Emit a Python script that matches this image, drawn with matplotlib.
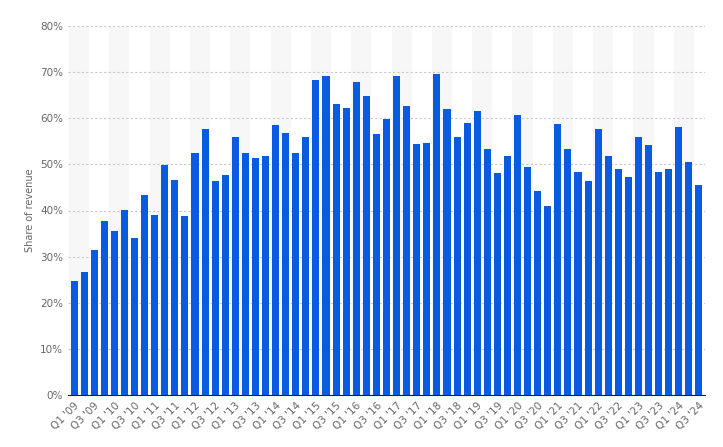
import matplotlib
matplotlib.use("Agg")
import matplotlib.pyplot as plt
from matplotlib.ticker import MultipleLocator, FuncFormatter

quarters = [f"Q{q} '{y:02d}" for y in range(9, 25) for q in (1, 2, 3, 4)][:63]
values = [24.7, 26.6, 31.4, 37.7, 35.5, 40.2, 34.0, 43.3, 39.1, 49.8,
          46.6, 38.8, 52.5, 57.7, 46.3, 47.6, 56.0, 52.5, 51.3, 51.9,
          58.6, 56.9, 52.5, 56.0, 68.4, 69.2, 63.1, 62.3, 67.9, 64.9,
          56.6, 59.8, 69.2, 62.7, 54.5, 54.7, 69.6, 62.1, 56.0, 58.9,
          61.5, 53.4, 48.2, 51.9, 60.7, 49.5, 44.2, 40.9, 58.8, 53.4,
          48.4, 46.5, 57.7, 51.9, 48.9, 47.2, 56.0, 54.1, 48.4, 48.9,
          58.2, 50.6, 45.6]
yticks = list(range(0, 81, 10))

fig = plt.figure(figsize=(7.23, 4.47), dpi=100)
ax = fig.add_axes([68/723, 1-395/447, 637/723, 369/447])
n = len(values)
x = list(range(n))
for i in range(0, n, 4):
    ax.axvspan(i - 0.5, i + 1.5, color="#f7f7f7", zorder=0, lw=0)
ax.bar(x, values, width=0.7, color="#0b5be0", zorder=3)
ax.set_xlim(-0.6, n - 0.4)
ax.set_ylim(0, 80)
ax.set_yticks(yticks)
ax.yaxis.set_major_formatter(FuncFormatter(lambda v, p: f"{int(v)}%"))
ax.grid(axis="y", color="#c8c8c8", linestyle=(0, (2, 2)), lw=0.8, zorder=1)
ax.set_xticks(x[::2])
ax.set_xticklabels(quarters[::2], rotation=45, ha="right", rotation_mode="anchor")
ax.tick_params(axis="both", length=0, labelsize=7.5, colors="#666666")
ax.tick_params(axis="x", pad=4)
for s in ["top", "right", "left"]:
    ax.spines[s].set_visible(False)
ax.spines["bottom"].set_color("#222222")
ax.set_ylabel("Share of revenue", fontsize=7, color="#666666")
fig.savefig("out.png", dpi=100)
